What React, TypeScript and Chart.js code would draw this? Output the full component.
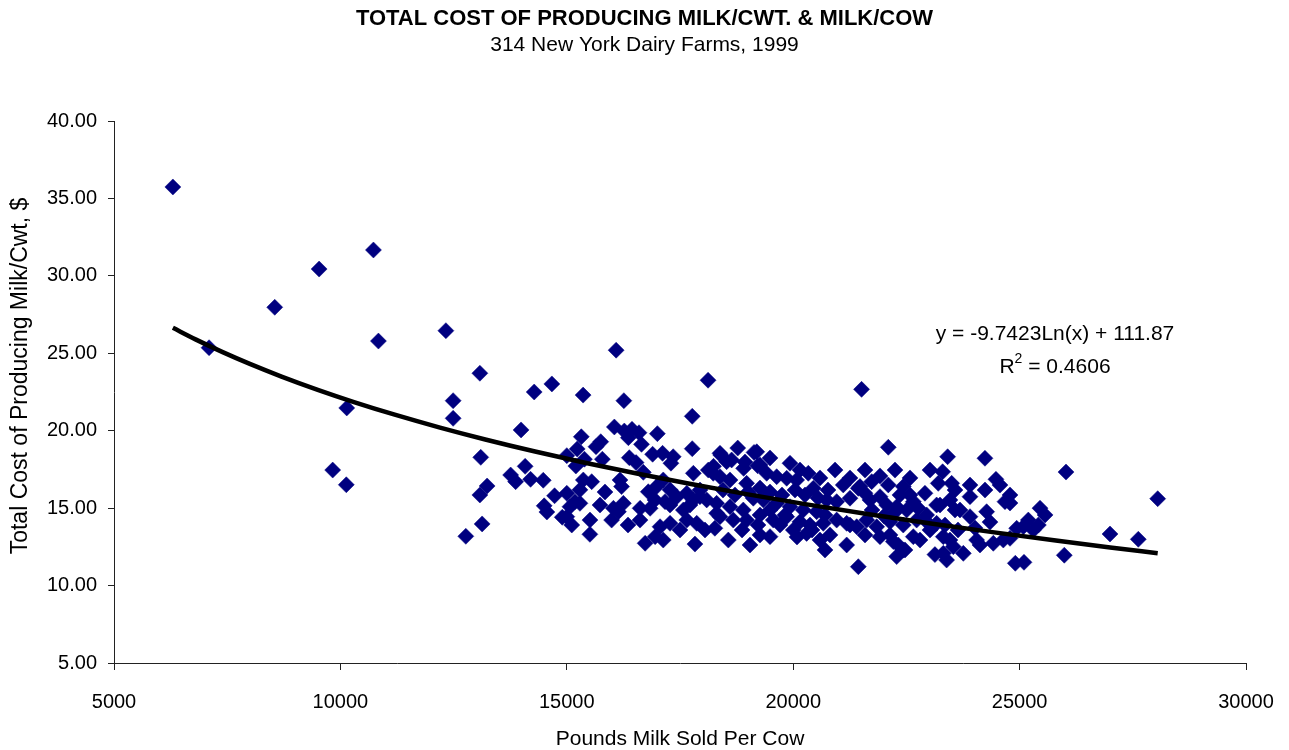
import React, { useEffect, useRef } from 'react';
import { Chart, registerables } from 'chart.js';

Chart.register(...registerables);

const TITLE = 'TOTAL COST OF PRODUCING MILK/CWT. & MILK/COW';
const SUBTITLE = '314 New York Dairy Farms, 1999';
const X_TITLE = 'Pounds Milk Sold Per Cow';
const Y_TITLE = 'Total Cost of Producing Milk/Cwt, $';
const EQUATION = 'y = -9.7423Ln(x) + 111.87';
const R2_VALUE = ' = 0.4606';

const xTickValues = [5000, 10000, 15000, 20000, 25000, 30000];
const yTickValues = [5, 10, 15, 20, 25, 30, 35, 40];

// Pounds milk sold per cow
const milkSoldPerCow = [
  6300, 7100, 8550, 9530, 10730, 10840, 12330, 13080, 12490, 12490, 14280, 14670, 10140, 9830, 10130, 13990, 13100, 14080, 13760, 13870, 14200, 14480, 13240, 13080, 14730, 14500, 14560, 14900, 13130, 12770,
  16090, 18120, 15360, 16260, 17770, 15320, 15230, 15645, 15750, 16050, 16270, 16440, 16595, 16360, 16650, 17000, 17770, 16895, 17115, 17350, 17300, 16380, 16530, 15785, 15390, 15000, 15200, 18400, 18775, 19135, 18905, 18640, 17795, 18125, 19215, 21510,
  16690, 16175, 16210, 15365, 15550, 15290, 15000, 15180, 15290, 15070, 15000, 15110, 15510, 16030, 16250, 15990, 16140, 16620, 16840, 16800, 17170, 16985, 17280, 17130, 17430, 17650, 17795, 17940, 18090, 17575, 17650, 17870, 18310, 18270, 17060, 17280, 16950, 17130, 16730, 17830, 18240,
  18383, 19195, 18530, 19267, 19414, 19929, 20334, 19635, 19856, 20076, 20444, 18235, 18383, 18604, 18972, 21106, 21438, 21586, 20739, 20960, 21254, 18309, 18604, 18898, 19119, 19340, 19635, 19929, 20223, 20518, 18383, 18677, 18972, 19267, 19561, 19856, 20150, 20371, 20665, 20960, 21181, 21402, 18567, 19046, 19488, 20003, 20297, 20592, 20702, 21181, 21438,
  22100, 23411, 24235, 24478, 23300, 23204, 23500, 21734, 22100, 22431, 22357, 22910, 22652, 21475, 21696, 21917, 22064, 22285, 22505, 23167, 23462, 23904, 23684, 23904, 24272, 24677, 24935, 21623, 21844, 22138, 22431, 22726, 22947, 23167, 21917, 22211, 22431, 22652, 23315, 23462, 23315, 23536, 23757, 24051, 24419, 24640, 23388, 22285, 24905, 22320,
  26025, 28050, 25451, 25562, 25193, 25414, 25083, 25304, 26997, 27622, 25987, 25097, 24788, 24788,
  18450, 18715, 19002, 19267, 19488, 19753, 20040, 20260, 20547, 20768, 18870, 19222, 19708, 20084, 20415, 20813, 21740, 22005, 22248, 22580, 22757, 23021, 23353, 23640, 24015, 24346, 22800, 22910, 17942, 17721, 18052, 17500, 17279, 16948, 16617, 16352, 15733, 15843, 15512, 18936, 19488, 20150, 20592, 20924, 21254, 21586, 21917, 22248, 22580, 23021, 23573, 23905, 24236, 24567, 24788, 23242, 23573, 19488, 19819, 20702, 21254, 21586, 22138, 22469, 23130, 24125, 19267,
];

// Total cost of producing milk per cwt, $
const costPerCwt = [
  35.74, 25.36, 27.97, 30.44, 31.67, 25.79, 26.46, 23.71, 21.94, 20.8, 22.5, 23.02, 21.47, 17.46, 16.51, 20.05, 18.28, 17.7, 17.14, 16.71, 16.86, 16.8, 16.43, 15.85, 15.8, 15.15, 14.75, 14.41, 13.98, 13.18,
  25.2, 23.26, 22.3, 21.94, 20.93, 19.61, 18.82, 18.97, 19.29, 20.24, 19.98, 20.09, 19.87, 19.55, 19.12, 19.81, 18.84, 18.48, 18.54, 18.32, 17.9, 18.26, 17.94, 18.16, 18.16, 18.39, 17.72, 18.43, 18.88, 18.6, 17.57, 18.11, 17.25, 17.46, 17.74, 22.67,
  17.31, 16.82, 16.39, 16.82, 16.71, 16.18, 15.96, 15.42, 15.31, 15.09, 14.45, 13.91, 13.31, 14.99, 15.31, 14.23, 14.77, 14.99, 14.99, 16.06, 15.42, 16.39, 16.18, 16.82, 15.74, 15.96, 15.53, 15.74, 15.53, 14.88, 14.23, 14.02, 14.67, 13.7, 13.8, 14.02, 13.16, 12.94, 12.73, 12.68, 17.7,
  18.54, 18.64, 18.0, 17.79, 17.25, 17.9, 17.25, 17.03, 16.93, 16.82, 16.28, 17.25, 17.03, 16.82, 16.6, 16.5, 16.28, 15.96, 15.53, 15.42, 15.64, 15.31, 15.09, 14.88, 15.64, 15.53, 15.31, 15.09, 14.88, 14.77, 14.45, 14.23, 14.23, 14.56, 14.23, 14.45, 14.12, 13.91, 14.02, 14.23, 14.02, 13.8, 12.94, 12.62, 13.16, 13.59, 13.37, 12.94, 12.3, 12.62, 11.22,
  18.93, 18.32, 18.22, 16.86, 17.35, 16.6, 16.6, 16.71, 16.5, 16.39, 15.85, 15.96, 15.42, 16.39, 15.53, 15.74, 15.2, 15.09, 14.88, 15.2, 15.53, 15.74, 14.88, 14.45, 14.77, 15.42, 13.7, 14.23, 13.8, 14.12, 13.91, 14.23, 14.56, 14.02, 13.16, 12.84, 12.3, 13.16, 13.16, 12.94, 12.08, 12.51, 12.08, 12.94, 12.73, 12.94, 11.65, 11.87, 11.44, 12.62,
  17.33, 15.61, 15.0, 14.56, 14.23, 13.91, 13.8, 13.59, 13.33, 12.99, 11.96, 11.5, 15.33, 13.05,
  16.17, 15.85, 16.04, 16.3, 16.04, 15.85, 16.17, 15.85, 15.66, 16.17, 13.59, 13.91, 13.91, 13.14, 13.59, 13.27, 14.88, 14.49, 14.75, 15.85, 15.01, 13.59, 13.91, 13.59, 13.72, 14.1, 12.94, 14.23, 16.17, 15.2, 13.59, 13.59, 15.2, 15.53, 14.23, 13.91, 15.2, 16.04, 14.23, 17.98, 18.24, 17.46, 16.95, 17.46, 16.95, 17.46, 17.08, 17.46, 16.95, 17.46, 16.17, 16.49, 16.17, 16.49, 15.85, 15.2, 14.88, 14.88, 14.56, 14.56, 13.91, 13.27, 13.27, 12.3, 12.0, 12.62, 13.27,
];

// Logarithmic trendline shown on the chart: y = a*ln(x) + b
const trendCoefficients = [-9.7423, 111.87];
const trendX = [6300, 6800, 7400, 8000, 8700, 9500, 10300, 11200, 12200, 13200, 14300, 15400, 16600, 17800, 19000, 20300, 21600, 23000, 24400, 25800, 27000, 28050];

const FONT = "'Liberation Sans', Arial, sans-serif";

const annotationPlugin = {
  id: 'annotations',
  afterDraw(chart: any) {
    const { ctx, chartArea, width } = chart;
    ctx.save();
    ctx.fillStyle = '#000';
    ctx.textBaseline = 'middle';
    ctx.textAlign = 'center';

    // Titles
    ctx.font = `bold 22px ${FONT}`;
    ctx.fillText(TITLE, width / 2, 19);
    ctx.font = `21px ${FONT}`;
    ctx.fillText(SUBTITLE, width / 2, 45);

    // Y axis title
    ctx.save();
    ctx.translate(21, 376);
    ctx.rotate(-Math.PI / 2);
    ctx.font = `23px ${FONT}`;
    ctx.fillText(Y_TITLE, 0, 0);
    ctx.restore();

    // Trendline equation
    const cx = chartArea.left + (1055 - 114);
    const y1 = chartArea.top + (334 - 121);
    const y2 = chartArea.top + (367 - 121);
    ctx.font = `21px ${FONT}`;
    ctx.fillText(EQUATION, cx, y1);
    ctx.textAlign = 'left';
    const wR = ctx.measureText('R').width;
    const wRest = ctx.measureText(R2_VALUE).width;
    ctx.font = `14px ${FONT}`;
    const wSup = ctx.measureText('2').width;
    const total = wR + wSup + wRest;
    let x = cx - total / 2;
    ctx.font = `21px ${FONT}`;
    ctx.fillText('R', x, y2);
    x += wR;
    ctx.font = `14px ${FONT}`;
    ctx.fillText('2', x, y2 - 8);
    x += wSup;
    ctx.font = `21px ${FONT}`;
    ctx.fillText(R2_VALUE, x, y2);
    ctx.restore();
  },
};

export default function App() {
  const ref = useRef<HTMLCanvasElement>(null);

  useEffect(() => {
    document.body.style.margin = '0';
    Chart.defaults.font.family = FONT;
    Chart.defaults.color = '#000';

    const points = milkSoldPerCow.map((x, i) => ({ x, y: costPerCwt[i] }));
    const trend = trendX.map((x) => ({ x, y: trendCoefficients[0] * Math.log(x) + trendCoefficients[1] }));

    const chart = new Chart(ref.current as HTMLCanvasElement, {
      type: 'scatter',
      data: {
        datasets: [
          {
            type: 'line',
            label: 'Trend',
            data: trend,
            borderColor: '#000',
            borderWidth: 4.5,
            pointRadius: 0,
            cubicInterpolationMode: 'monotone',
            fill: false,
            order: 0,
          } as any,
          {
            label: 'Farms',
            data: points,
            pointStyle: 'rectRot',
            pointRadius: 8,
            pointBorderWidth: 0.5,
            backgroundColor: '#000080',
            borderColor: '#000080',
            order: 1,
          },
        ],
      },
      options: {
        responsive: false,
        animation: false,
        layout: { padding: { left: 36, right: 43, top: 121, bottom: 0 } },
        plugins: {
          legend: { display: false },
          tooltip: { enabled: false },
          title: { display: false },
          subtitle: { display: false },
        },
        scales: {
          x: {
            type: 'linear',
            min: xTickValues[0],
            max: xTickValues[xTickValues.length - 1],
            afterBuildTicks: (scale: any) => {
              scale.ticks = xTickValues.map((v) => ({ value: v }));
            },
            ticks: {
              callback: (v: any) => String(v),
              font: { size: 20, family: FONT },
              color: '#000',
              padding: 20,
              maxRotation: 0,
            },
            grid: { display: true, drawOnChartArea: false, drawTicks: true, tickLength: 7, color: '#222' },
            border: { display: true, color: '#222', width: 1 },
            title: {
              display: true,
              text: X_TITLE,
              color: '#000',
              font: { size: 21, family: FONT, lineHeight: 1.0 },
              padding: { top: 0, bottom: 0 },
            },
            afterFit: (scale: any) => {
              scale.height = 87;
              scale.paddingLeft = 0;
              scale.paddingRight = 0;
            },
          },
          y: {
            type: 'linear',
            min: yTickValues[0],
            max: yTickValues[yTickValues.length - 1],
            afterBuildTicks: (scale: any) => {
              scale.ticks = yTickValues.map((v) => ({ value: v }));
            },
            ticks: {
              callback: (v: any) => Number(v).toFixed(2),
              font: { size: 20, family: FONT },
              color: '#000',
              padding: 11,
            },
            grid: { display: true, drawOnChartArea: false, drawTicks: true, tickLength: 6, color: '#222' },
            border: { display: true, color: '#222', width: 1 },
            title: { display: false },
            afterFit: (scale: any) => {
              scale.width = 78;
              scale.paddingTop = 0;
              scale.paddingBottom = 0;
            },
          },
        },
      },
      plugins: [annotationPlugin],
    } as any);

    return () => chart.destroy();
  }, []);

  return (
    <div style={{ position: 'absolute', left: 0, top: 0, width: 1289, height: 750, background: '#fff' }}>
      <canvas ref={ref} width={1289} height={750} style={{ width: 1289, height: 750 }} />
    </div>
  );
}
